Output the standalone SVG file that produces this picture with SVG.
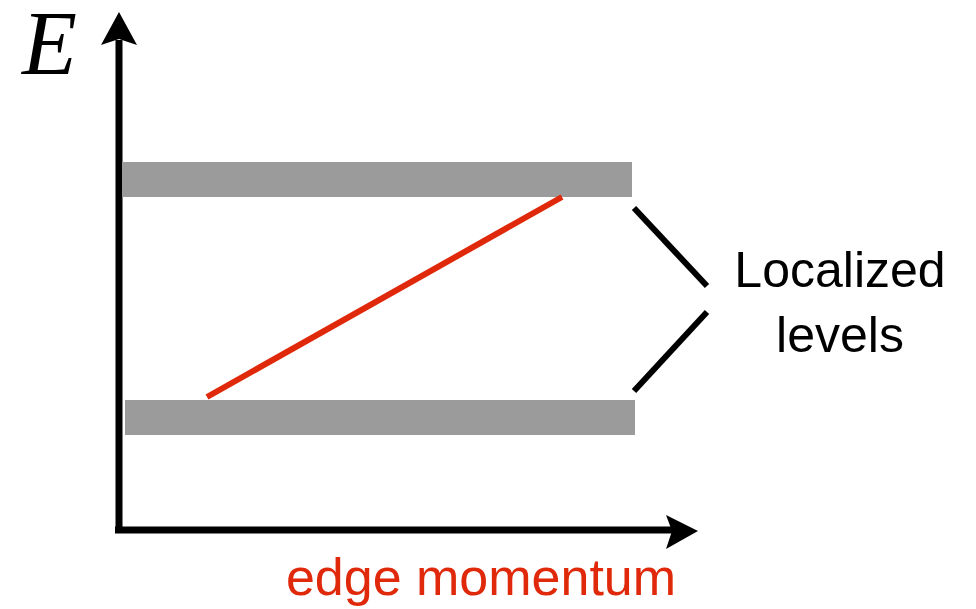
<svg xmlns="http://www.w3.org/2000/svg" width="976" height="609" viewBox="0 0 976 609">
<style>
.axis{stroke:#000;stroke-width:7;fill:none}
.bar{fill:#9b9b9b}
.brk{stroke:#000;stroke-width:6;fill:none}
.lbl{font-family:"Liberation Sans","DejaVu Sans",sans-serif;fill:#000}
</style>
<rect width="976" height="609" fill="#fff"/>
<g id="axes">
<path class="axis" d="M119 530 V40 M115 530 H672"/>
<polygon points="119,12 137,45 119,39 101,45" fill="#000"/>
<polygon points="698,531 666,515 672,531 666,549" fill="#000"/>
<text x="22" y="74" font-family="'Liberation Serif','Times New Roman',serif" font-style="italic" font-size="90">E</text>
<text x="481" y="595" class="lbl" style="fill:#e0280a" font-size="52" text-anchor="middle">edge momentum</text>
</g>
<g id="upper-level"><rect class="bar" x="122" y="162" width="510" height="35"/></g>
<g id="lower-level"><rect class="bar" x="125" y="400" width="510" height="35"/></g>
<g id="edge-state"><line x1="207" y1="397" x2="562" y2="197" stroke="#e0280a" stroke-width="6"/></g>
<g id="connectors">
<line class="brk" x1="634" y1="208" x2="707" y2="286"/>
<line class="brk" x1="707" y1="312" x2="634" y2="391"/>
</g>
<g id="label">
<text class="lbl" x="840" y="287" font-size="50" text-anchor="middle">Localized</text>
<text class="lbl" x="840" y="352" font-size="50" text-anchor="middle">levels</text>
</g>
</svg>
